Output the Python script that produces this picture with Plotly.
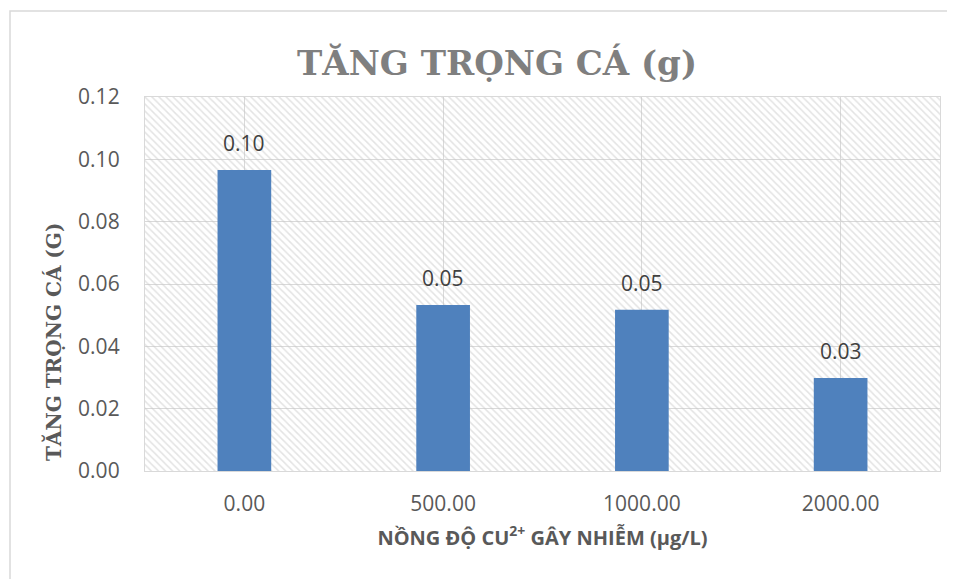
import plotly.graph_objects as go

categories = ["0.00", "500.00", "1000.00", "2000.00"]
values = [0.0966, 0.0533, 0.0517, 0.0298]
labels = ["0.10", "0.05", "0.05", "0.03"]
y_ticks = [0.00, 0.02, 0.04, 0.06, 0.08, 0.10, 0.12]

title_text = "TĂNG TRỌNG CÁ (g)"
y_title = "TĂNG TRỌNG CÁ (G)"
x_title = "NỒNG ĐỘ CU<sup>2+</sup> GÂY NHIỄM (μg/L)"

xs = list(range(len(categories)))
ymax = y_ticks[-1]

# page has an 8px body margin; plot area in page px: x 145-940, y 97-471
L, R, T, B = 137, 23, 89, 116

fig = go.Figure()

# hatched plot-area background
fig.add_trace(go.Bar(
    x=[(xs[0] + xs[-1]) / 2], y=[ymax], width=[len(xs)],
    marker=dict(color="rgba(0,0,0,0)", line=dict(width=0),
                pattern=dict(shape="\\", fgcolor="#c8c8c8", bgcolor="rgba(0,0,0,0)",
                             size=5, solidity=0.3, fillmode="overlay")),
    hoverinfo="skip", showlegend=False,
))

fig.add_trace(go.Bar(
    x=xs, y=values, width=0.27,
    marker=dict(color="#4f81bd", line=dict(width=0)),
    showlegend=False,
))

for xi, v, t in zip(xs, values, labels):
    fig.add_annotation(x=xi, y=v, text=t, showarrow=False, yanchor="bottom",
                       yshift=11, font=dict(family="Open Sans", size=21, color="#404040"))

fig.add_annotation(xref="paper", yref="paper", x=(497 - 145) / 795, y=(471 - 63) / 374,
                   text=f"<b>{title_text}</b>", showarrow=False,
                   font=dict(family="DejaVu Serif", size=34, color="#7f7f7f"),
                   xanchor="center", yanchor="middle")

# y-axis title (sits lower than the plot centre, as in the reference)
fig.add_annotation(xref="paper", yref="paper", x=(53 - 145) / 795, y=(471 - 342) / 374,
                   text=f"<b>{y_title}</b>", showarrow=False, textangle=-90,
                   font=dict(family="DejaVu Serif", size=20, color="#595959"),
                   xanchor="center", yanchor="middle")

# outer chart border
fig.add_shape(type="rect", xref="paper", yref="paper",
              x0=(10 - 145) / 795, x1=(1000 - 145) / 795,
              y0=(471 - 650) / 374, y1=(471 - 11) / 374,
              line=dict(color="#d9d9d9", width=1.5), fillcolor="rgba(0,0,0,0)", layer="below")

fig.update_layout(
    width=955, height=579,
    margin=dict(l=L, r=R, t=T, b=B),
    paper_bgcolor="white", plot_bgcolor="white",
    barmode="overlay",
    font=dict(family="Open Sans", color="#595959"),
    xaxis=dict(
        range=[-0.5, len(xs) - 0.5], tickmode="array", tickvals=xs, ticktext=categories,
        showgrid=True, gridcolor="#d9d9d9", gridwidth=1.3,
        showline=True, linecolor="#d9d9d9", linewidth=1.3, mirror=True,
        tickfont=dict(family="Open Sans", size=21, color="#595959"),
        ticks="", zeroline=False, ticklabelstandoff=14,
        title=dict(text=f"<b>{x_title}</b>", font=dict(family="Open Sans", size=20, color="#595959"), standoff=14),
    ),
    yaxis=dict(
        range=[0, ymax], tickmode="array", tickvals=y_ticks, tickformat=".2f",
        showgrid=True, gridcolor="#d9d9d9", gridwidth=1.3,
        showline=True, linecolor="#d9d9d9", linewidth=1.3, mirror=True,
        tickfont=dict(family="Open Sans", size=21, color="#595959"),
        ticks="", zeroline=False, ticklabelstandoff=20,
    ),
)

fig.write_html("out.html")
